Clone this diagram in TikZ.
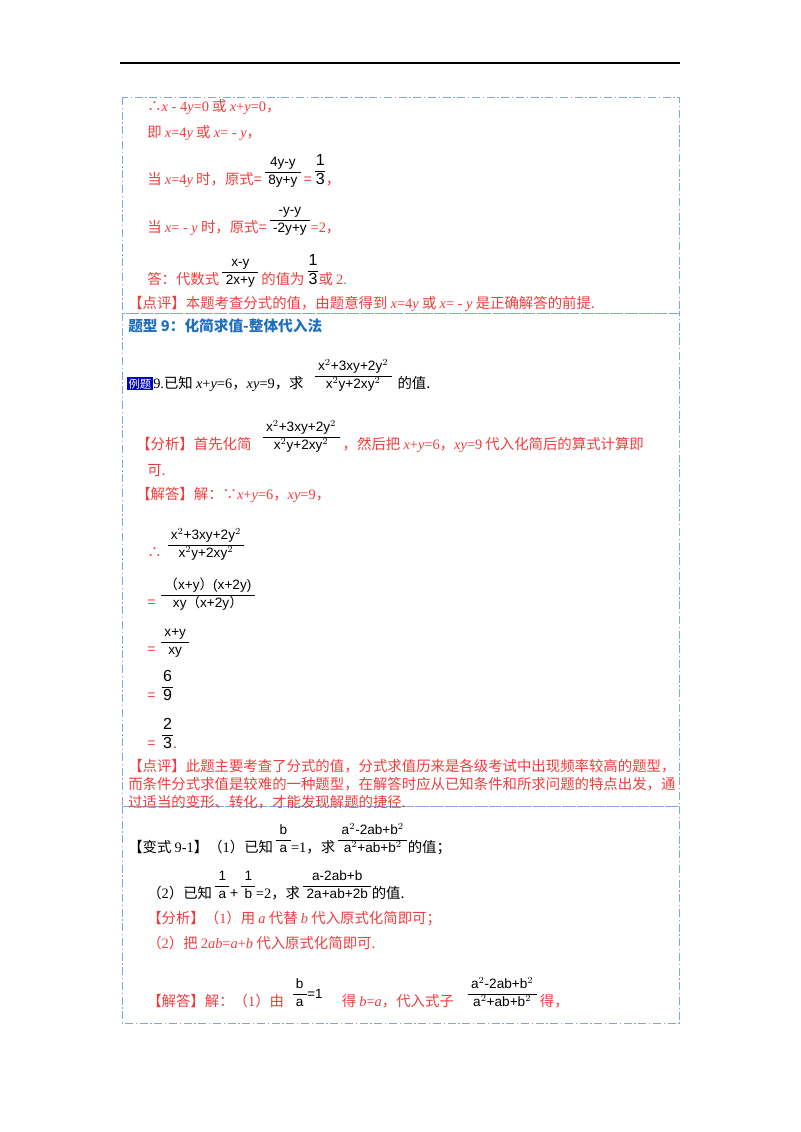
\documentclass[tikz,border=0pt]{standalone}
\usepackage{fontspec}
\setmainfont{Noto Sans CJK SC}
\newfontfamily\ser{Liberation Serif}
\newfontfamily\fsans{Liberation Sans}
\newfontfamily\cjk{Noto Sans CJK SC}
\newcommand{\vi}[1]{{\ser\itshape #1}}
\newcommand{\sr}[1]{{\ser #1}}
\newcommand{\fb}[2]{{\fsans\fontsize{10.2}{11}\selectfont\color{black}\setlength{\tabcolsep}{2.5pt}\renewcommand{\arraystretch}{1.15}\begin{tabular}[b]{c}#1\\\hline #2\end{tabular}}}
\newcommand{\fbig}[2]{{\fsans\fontsize{12}{13}\selectfont\color{black}\setlength{\tabcolsep}{0.5pt}\renewcommand{\arraystretch}{1.05}\begin{tabular}[b]{c}#1\\\hline #2\end{tabular}}}
\definecolor{rd}{HTML}{F03C3C}
\definecolor{bx}{HTML}{7FA7DD}
\definecolor{tb}{HTML}{1F6FC0}
\begin{document}
\begin{tikzpicture}[x=0.75pt,y=-0.75pt,
  t/.style={anchor=base west,inner sep=0pt,font=\fontsize{10.8}{12}\selectfont},
  r/.style={t,text=rd},
  f/.style={anchor=base west,inner sep=0pt,xshift=2pt},
  box/.style={draw=bx,line width=0.7pt,dash pattern=on 6pt off 2pt on 1pt off 2pt}]
\useasboundingbox (0,0) rectangle (800,1132);
\draw[line width=0.8pt] (120,63) -- (680,63);
\draw[box] (122,97) rectangle (679,313);
\draw[box] (122,313) rectangle (679,806);
\draw[box] (122,806) rectangle (679,1023);
% box 1
\node[r] (l1) at (147,111) {∴\vi{x}\sr{ - 4}\vi{y}\sr{=0} 或 \vi{x}\sr{+}\vi{y}\sr{=0}，};
\node[r] (l2) at (147,137) {即 \vi{x}\sr{=4}\vi{y} 或 \vi{x}\sr{= - }\vi{y}，};
\node[r] (l3) at (147,184) {当 \vi{x}\sr{=4}\vi{y} 时，原式=};
\node[f] (l3a) at (l3.base east) {\fb{4y-y}{8y+y}};
\node[r,xshift=2pt] (l3b) at (l3a.base east) {=};
\node[f] (l3c) at (l3b.base east) {\fbig{1}{3}};
\node[r] (l3d) at (l3c.base east) {，};
\node[r] (l4) at (147,232) {当 \vi{x}\sr{= - }\vi{y} 时，原式=};
\node[f] (l4a) at (l4.base east) {\fb{\,-y-y\,}{-2y+y}};
\node[r] (l4b) at (l4a.base east) {\sr{=2}，};
\node[r] (l5) at (147,284) {答：代数式};
\node[f] (l5a) at (l5.base east) {\fb{x-y}{2x+y}};
\node[r,xshift=2pt] (l5b) at (l5a.base east) {的值为};
\node[f] (l5c) at (l5b.base east) {\fbig{1}{3}};
\node[r] (l5d) at (l5c.base east) {或 \sr{2.}};
\node[r] (l6) at (128,308) {【点评】本题考查分式的值，由题意得到 \vi{x}\sr{=4}\vi{y} 或 \vi{x}\sr{= - }\vi{y} 是正确解答的前提.};
% box 2
\node[t,text=tb,font=\bfseries\fontsize{11}{12}\selectfont] (h) at (128,331) {题型 9：化简求值-整体代入法};
\node[fill=blue!80!black,text=white,inner sep=1pt,font=\fontsize{8.5}{10}\selectfont,anchor=base west] (lt) at (127,388) {例题};
\node[t] (q) at (153,388) {\sr{9.}已知 \vi{x}\sr{+}\vi{y}\sr{=6}，\vi{xy}\sr{=9}，求};
\node[f,xshift=6pt] (qa) at (q.base east) {\fb{x$^{2}$+3xy+2y$^{2}$}{x$^{2}$y+2xy$^{2}$}};
\node[t,xshift=4pt] (qb) at (qa.base east) {的值.};
\node[r] (a1) at (136,449) {【分析】首先化简};
\node[f,xshift=6pt] (a1a) at (a1.base east) {\fb{x$^{2}$+3xy+2y$^{2}$}{x$^{2}$y+2xy$^{2}$}};
\node[r,xshift=2pt] (a1b) at (a1a.base east) {，然后把 \vi{x}\sr{+}\vi{y}\sr{=6}，\vi{xy}\sr{=9} 代入化简后的算式计算即};
\node[r] (a2) at (147,475) {可.};
\node[r] (s1) at (136,499) {【解答】解：∵\vi{x}\sr{+}\vi{y}\sr{=6}，\vi{xy}\sr{=9}，};
\node[r] (s2) at (147,557) {∴};
\node[f,xshift=2pt] (s2a) at (s2.base east) {\fb{x$^{2}$+3xy+2y$^{2}$}{x$^{2}$y+2xy$^{2}$}};
\node[r] (s3) at (147,607) {=};
\node[f,xshift=2pt] (s3a) at (s3.base east) {\fb{{\cjk （}x+y{\cjk ）}(x+2y)}{xy{\cjk （}x+2y{\cjk ）}}};
\node[r] (s4) at (147,654) {=};
\node[f,xshift=2pt] (s4a) at (s4.base east) {\fb{x+y}{xy}};
\node[r] (s5) at (147,700) {=};
\node[f,xshift=3pt] (s5a) at (s5.base east) {\fbig{6}{9}};
\node[r] (s6) at (147,748) {=};
\node[f,xshift=3pt] (s6a) at (s6.base east) {\fbig{2}{3}};
\node[r] (s6b) at (s6a.base east) {.};
\node[r] (p1) at (128,771) {【点评】此题主要考查了分式的值，分式求值历来是各级考试中出现频率较高的题型，};
\node[r] (p2) at (128,789) {而条件分式求值是较难的一种题型，在解答时应从已知条件和所求问题的特点出发，通};
\node[r] (p3) at (128,807) {过适当的变形、转化，才能发现解题的捷径.};
% box 3
\node[t] (b1) at (128,852) {【变式 \sr{9-1}】（\sr{1}）已知};
\node[f] (b1a) at (b1.base east) {\fb{b}{a}};
\node[t] (b1b) at (b1a.base east) {\sr{=1}，求};
\node[f] (b1c) at (b1b.base east) {\fb{a$^{2}$-2ab+b$^{2}$}{a$^{2}$+ab+b$^{2}$}};
\node[t] (b1d) at (b1c.base east) {的值；};
\node[t] (b2) at (147,898) {（\sr{2}）已知};
\node[f] (b2a) at (b2.base east) {\fb{1}{a}};
\node[t] (b2b) at (b2a.base east) {+};
\node[f] (b2c) at (b2b.base east) {\fb{1}{b}};
\node[t] (b2d) at (b2c.base east) {\sr{=2}，求};
\node[f] (b2e) at (b2d.base east) {\fb{a-2ab+b}{2a+ab+2b}};
\node[t] (b2f) at (b2e.base east) {的值.};
\node[r] (c1) at (147,923) {【分析】（\sr{1}）用 \vi{a} 代替 \vi{b} 代入原式化简即可；};
\node[r] (c2) at (147,948) {（\sr{2}）把 \sr{2}\vi{ab}\sr{=}\vi{a}\sr{+}\vi{b} 代入原式化简即可.};
\node[r] (d1) at (147,1006) {【解答】解：（\sr{1}）由};
\node[f,xshift=4pt] (d1a) at (d1.base east) {\fb{b}{a}};
\node[anchor=base west,inner sep=0pt,font=\fsans\fontsize{10}{11}\selectfont] (d1b) at ([yshift=6pt]d1a.base east) {=1};
\node[r,xshift=14pt] (d1c) at (d1b.base east|-d1.base) {得 \vi{b}\sr{=}\vi{a}，代入式子};
\node[f,xshift=8pt] (d1d) at (d1c.base east) {\fb{a$^{2}$-2ab+b$^{2}$}{a$^{2}$+ab+b$^{2}$}};
\node[r,xshift=2pt] (d1e) at (d1d.base east) {得，};
\end{tikzpicture}
\end{document}
